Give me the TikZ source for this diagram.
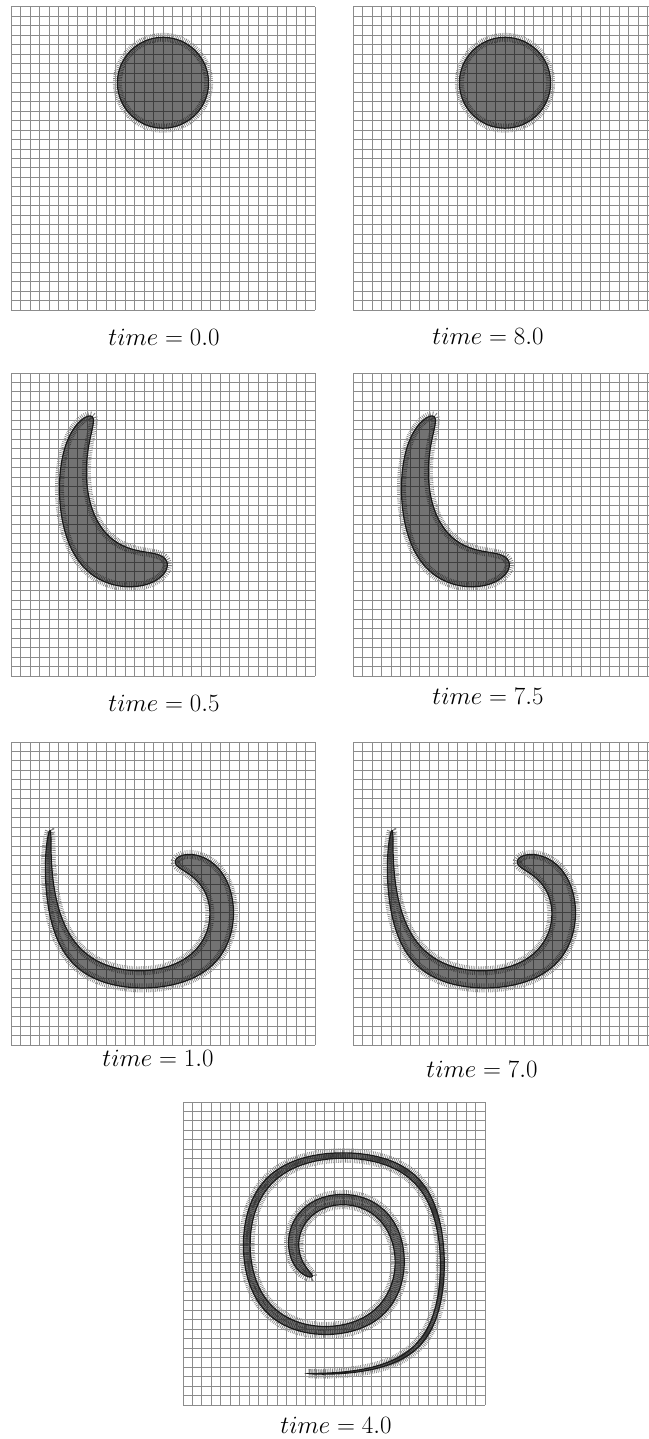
\documentclass[tikz,border=0pt]{standalone}
\usepackage{tikz}

\tikzset{
  meshline/.style={draw=black!45, line width=1pt},
  blobfill/.style={fill=black, fill opacity=0.55},
  blobedge/.style={draw=black!90, line width=1.2pt},
  blobhalo/.style={draw=black!50, line width=9pt, dash pattern=on 0.6pt off 1.2pt},
  timelabel/.style={inner sep=0pt, font=\fontsize{26}{31}\selectfont}
}

\makeatletter
\newdimen\vpx \newdimen\vpy \newdimen\vqx \newdimen\vqy
\newdimen\vux \newdimen\vuy \newdimen\vsx \newdimen\vsy \newdimen\vtmp
\newcount\vstep

% single vortex: u = sin^2(pi x) sin(2 pi y), v = -sin^2(pi y) sin(2 pi x)
\def\vortexvel#1#2{%
  \vtmp=#1\multiply\vtmp by 180 \pgfmathsin@{\strip@pt\vtmp}\let\vsa\pgfmathresult
  \vtmp=#1\multiply\vtmp by 360 \pgfmathsin@{\strip@pt\vtmp}\let\vsd\pgfmathresult
  \vtmp=#2\multiply\vtmp by 180 \pgfmathsin@{\strip@pt\vtmp}\let\vsc\pgfmathresult
  \vtmp=#2\multiply\vtmp by 360 \pgfmathsin@{\strip@pt\vtmp}\let\vsb\pgfmathresult
  \vux=\vsb pt \vux=\vsa\vux \vux=\vsa\vux
  \vuy=-\vsd pt \vuy=\vsc\vuy \vuy=\vsc\vuy}

% one RK4 step
\def\vortexrk{%
  \vortexvel\vpx\vpy \vsx=\vux \vsy=\vuy
  \vqx=\vpx \advance\vqx by \vhalf\vux \vqy=\vpy \advance\vqy by \vhalf\vuy
  \vortexvel\vqx\vqy \advance\vsx by 2\vux \advance\vsy by 2\vuy
  \vqx=\vpx \advance\vqx by \vhalf\vux \vqy=\vpy \advance\vqy by \vhalf\vuy
  \vortexvel\vqx\vqy \advance\vsx by 2\vux \advance\vsy by 2\vuy
  \vqx=\vpx \advance\vqx by \vfull\vux \vqy=\vpy \advance\vqy by \vfull\vuy
  \vortexvel\vqx\vqy \advance\vsx by \vux \advance\vsy by \vuy
  \divide\vsx by 6 \divide\vsy by 6
  \advance\vpx by \vfull\vsx \advance\vpy by \vfull\vsy}

\def\vortexrun#1#2{%
  \def\vfull{#2}\pgfmathsetmacro\vhalf{#2/2}%
  \vstep=0
  \loop\ifnum\vstep<#1 \vortexrk\advance\vstep by 1 \repeat}

% s = (8/pi) sin(pi t/8): t=0.5 -> 0.49679, t=1 -> 0.97450, t=4 -> 2.54648
\def\blobA{}\def\blobB{}\def\blobC{}
\foreach \k in {0,...,299}{%
  \pgfmathsetmacro\ang{1.2*\k - 17.19*sin(2.4*\k)}%
  \pgfmathsetmacro\cx{0.5+0.15*cos(\ang)}%
  \pgfmathsetmacro\cy{0.75+0.15*sin(\ang)}%
  \vpx=\cx pt \vpy=\cy pt
  \vortexrun{25}{0.0198716}%
  \xdef\blobA{\blobA(\strip@pt\vpx,\strip@pt\vpy)}%
  \vortexrun{24}{0.0199046}%
  \xdef\blobB{\blobB(\strip@pt\vpx,\strip@pt\vpy)}%
  \vortexrun{79}{0.0198985}%
  \xdef\blobC{\blobC(\strip@pt\vpx,\strip@pt\vpy)}%
}
\makeatother

\def\pathO{(0.5,0.75) circle[radius=0.15]}
\edef\pathA{plot[smooth cycle] coordinates {\blobA}}
\edef\pathB{plot[smooth cycle] coordinates {\blobB}}
\edef\pathC{plot[smooth cycle] coordinates {\blobC}}

% #1,#2 top left corner, #3 width, #4 outline
\newcommand\flowpanel[4]{%
  \begin{scope}[shift={(#1,#2+303)}, xscale=#3, yscale=-303]
    \draw[blobhalo] #4;
  \end{scope}
  \foreach \i in {0,...,32}{
    \draw[meshline] (#1+#3*\i/32,#2) -- ++(0,303);
    \draw[meshline] (#1,#2+303*\i/32) -- ++(#3,0);
  }
  \begin{scope}[shift={(#1,#2+303)}, xscale=#3, yscale=-303]
    \fill[blobfill] #4;
    \draw[blobedge] #4;
  \end{scope}}

\begin{document}
\begin{tikzpicture}[x=1pt, y=-1pt]
\useasboundingbox (0,0) rectangle (648,1439);
\fill[white] (0,0) rectangle (648,1439);

\flowpanel{11}{7}{304}{\pathO}
\flowpanel{353}{7}{304}{\pathO}
\flowpanel{11}{373}{304}{\pathA}
\flowpanel{353}{373}{304}{\pathA}
\flowpanel{11}{742}{304}{\pathB}
\flowpanel{353}{742}{304}{\pathB}
\flowpanel{183}{1102}{302}{\pathC}

\node[timelabel] (lab00) at (164,337) {$time = 0.0$};
\node[timelabel] (lab80) at (488,336) {$time = 8.0$};
\node[timelabel] (lab05) at (164,703) {$time = 0.5$};
\node[timelabel] (lab75) at (488,696) {$time = 7.5$};
\node[timelabel] (lab10) at (158,1058) {$time = 1.0$};
\node[timelabel] (lab70) at (482,1069) {$time = 7.0$};
\node[timelabel] (lab40) at (336,1425) {$time = 4.0$};
\end{tikzpicture}
\end{document}
